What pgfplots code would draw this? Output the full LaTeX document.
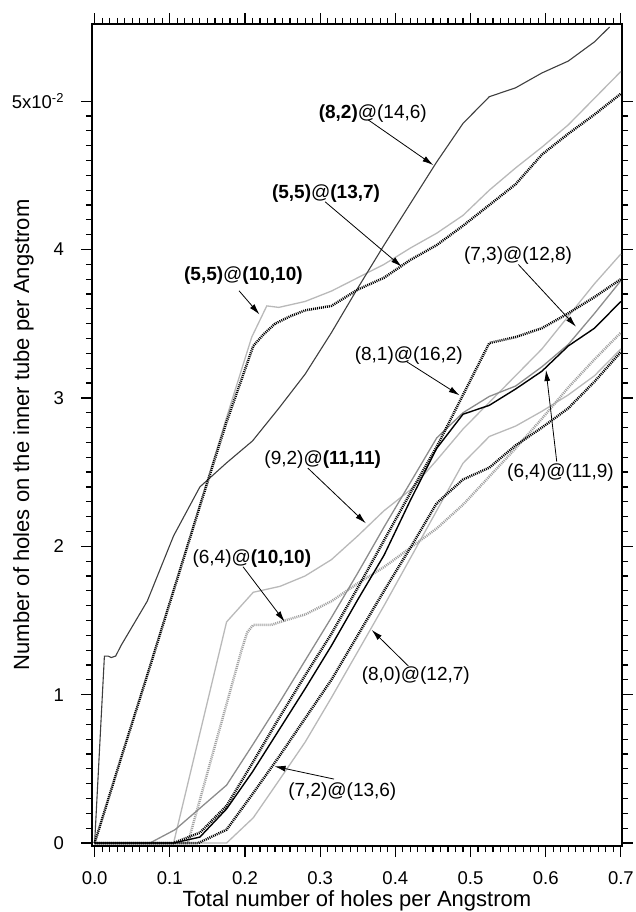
\documentclass[border=0pt]{standalone}
\usepackage{fontspec}
\setmainfont{Liberation Sans}
\usepackage{pgfplots}
\pgfplotsset{compat=1.18}
\usetikzlibrary{arrows.meta}
\definecolor{lg}{RGB}{185,185,185}
\definecolor{mg}{RGB}{140,140,140}
\definecolor{dg}{RGB}{62,62,62}
\definecolor{lgd}{RGB}{160,160,160}
\tikzset{
  dotb/.style={black, line width=2.5pt, dash pattern=on 1pt off 1pt},
  dotg/.style={lgd, line width=2.5pt, dash pattern=on 1pt off 1pt},
  ann/.style={font=\fontsize{19}{22}\selectfont, inner sep=0pt},
  arr/.style={black, line width=0.8pt, -{Latex[length=11pt,width=6pt]}},
}
\begin{document}
\begin{tikzpicture}
\useasboundingbox (-92pt,-66pt) rectangle (543pt,846pt);
\begin{axis}[
  at={(0pt,0pt)}, anchor=south west,
  scale only axis, width=530pt, height=822pt,
  xmin=-0.0035, xmax=0.7015, ymin=-0.0002, ymax=0.0552,
  xtick={0,0.1,0.2,0.3,0.4,0.5,0.6,0.7},
  xticklabels={0.0,0.1,0.2,0.3,0.4,0.5,0.6,0.7},
  ytick={0,0.01,0.02,0.03,0.04,0.05},
  yticklabels={0,1,2,3,4,{5x10\textsuperscript{-2}}},
  scaled y ticks=false, scaled x ticks=false,
  minor x tick num=9, minor y tick num=9,
  tick align=outside, tick pos=both,
  major tick length=10.5pt, minor tick length=6pt,
  tick style={black, line width=1.2pt},
  axis line style={line width=1.3pt},
  ticklabel style={font=\fontsize{18.5}{21}\selectfont},
  xticklabel style={yshift=-11.5pt},
  yticklabel style={xshift=-14pt},
  every axis x label/.style={at={(axis description cs:0.5,-0.0742)}, anchor=base, inner sep=0pt, font=\fontsize{22}{26}\selectfont},
  every axis y label/.style={at={(axis description cs:-0.1094,0.5)}, rotate=90, anchor=south, inner sep=0pt, font=\fontsize{22}{26}\selectfont},
  xlabel={Total number of holes per Angstrom},
  ylabel={Number of holes on the inner tube per Angstrom},
]
% (5,5)@(10,10) light gray
\addplot[lg, line width=1.3pt] coordinates {(0,0) (0.035,0.0057) (0.07,0.0114) (0.105,0.0171) (0.14,0.0228) (0.175,0.0286) (0.209,0.0341) (0.229,0.0362) (0.245,0.0361) (0.28,0.0365) (0.315,0.0372) (0.35,0.0381) (0.385,0.0390) (0.42,0.0401) (0.455,0.0411) (0.49,0.0423) (0.525,0.0440) (0.56,0.0455) (0.595,0.0469) (0.63,0.0484) (0.665,0.0502) (0.70,0.0520)};
% (9,2)@(11,11) light gray
\addplot[lg, line width=1.3pt] coordinates {(0,0) (0.105,0) (0.1755,0.0149) (0.211,0.0169) (0.2466,0.0173) (0.28,0.0180) (0.315,0.0191) (0.35,0.0207) (0.385,0.0224) (0.42,0.0238) (0.455,0.0258) (0.49,0.0279) (0.525,0.0297) (0.56,0.0315) (0.595,0.0333) (0.63,0.0355) (0.665,0.0377) (0.70,0.0397)};
% (8,0)@(12,7) light gray
\addplot[lg, line width=1.3pt] coordinates {(0,0) (0.1755,0) (0.211,0.0017) (0.245,0.0042) (0.28,0.0068) (0.315,0.0098) (0.35,0.0129) (0.385,0.0160) (0.42,0.0192) (0.455,0.0224) (0.49,0.0256) (0.525,0.0274) (0.56,0.0281) (0.595,0.0291) (0.63,0.0302) (0.665,0.0315) (0.70,0.0333)};
% (6,4)@(10,10) light gray dotted
\addplot[dotg] coordinates {(0,0) (0.124,0) (0.196,0.0131) (0.203,0.0142) (0.211,0.0147) (0.235,0.0147) (0.253,0.0150) (0.28,0.0154) (0.315,0.0163) (0.35,0.0175) (0.385,0.0186) (0.42,0.0199) (0.455,0.0212) (0.49,0.0228) (0.525,0.0247) (0.56,0.0266) (0.595,0.0286) (0.63,0.0307) (0.665,0.0326) (0.70,0.0344)};
% (7,3)@(12,8) mid gray
\addplot[mg, line width=1.3pt] coordinates {(0,0) (0.0735,0) (0.107,0.0009) (0.1755,0.0039) (0.21,0.0066) (0.245,0.0094) (0.28,0.0123) (0.315,0.0152) (0.35,0.0182) (0.385,0.0213) (0.42,0.0243) (0.455,0.0273) (0.49,0.0290) (0.525,0.0301) (0.56,0.0308) (0.595,0.0321) (0.63,0.0336) (0.665,0.0357) (0.70,0.0379)};
% (8,2)@(14,6) dark gray
\addplot[dg, line width=1.1pt] coordinates {(0,0) (0.013,0.0126) (0.018,0.0126) (0.022,0.0125) (0.028,0.0126) (0.035,0.0133) (0.07,0.0163) (0.105,0.0207) (0.14,0.0240) (0.175,0.0256) (0.21,0.0271) (0.245,0.0293) (0.28,0.0316) (0.315,0.0344) (0.35,0.0374) (0.385,0.0403) (0.42,0.0431) (0.455,0.0459) (0.49,0.0485) (0.525,0.0503) (0.56,0.0509) (0.595,0.0519) (0.63,0.0527) (0.665,0.0540) (0.685,0.0550)};
% (5,5)@(13,7) black dotted
\addplot[dotb] coordinates {(0,0) (0.035,0.0057) (0.07,0.0113) (0.105,0.0170) (0.14,0.0227) (0.175,0.0283) (0.211,0.0335) (0.225,0.0343) (0.24,0.0350) (0.26,0.0355) (0.28,0.0359) (0.315,0.0362) (0.35,0.0373) (0.385,0.0381) (0.42,0.0393) (0.455,0.0403) (0.49,0.0416) (0.525,0.0430) (0.56,0.0444) (0.595,0.0464) (0.63,0.0478) (0.665,0.0491) (0.70,0.0505)};
% (8,1)@(16,2) black dotted
\addplot[dotb] coordinates {(0,0) (0.105,0) (0.14,0.0007) (0.1755,0.0025) (0.21,0.0054) (0.245,0.0084) (0.28,0.0113) (0.315,0.0141) (0.35,0.0172) (0.385,0.0204) (0.42,0.0236) (0.455,0.0267) (0.49,0.0302) (0.525,0.0337) (0.56,0.0341) (0.595,0.0347) (0.63,0.0357) (0.665,0.0368) (0.70,0.0380)};
% (7,2)@(13,6) black dotted
\addplot[dotb] coordinates {(0,0) (0.138,0) (0.1755,0.0009) (0.21,0.0033) (0.245,0.0058) (0.28,0.0084) (0.315,0.0110) (0.35,0.0140) (0.385,0.0170) (0.42,0.0199) (0.455,0.0229) (0.49,0.0245) (0.525,0.0253) (0.56,0.0268) (0.595,0.0280) (0.63,0.0293) (0.665,0.0311) (0.70,0.0331)};
% (6,4)@(11,9) black solid
\addplot[black, line width=1.4pt] coordinates {(0,0) (0.105,0) (0.14,0.0004) (0.1755,0.0023) (0.21,0.0048) (0.245,0.0076) (0.28,0.0104) (0.315,0.0133) (0.35,0.0164) (0.385,0.0194) (0.42,0.0231) (0.455,0.0266) (0.49,0.0289) (0.525,0.0295) (0.56,0.0306) (0.595,0.0318) (0.63,0.0335) (0.665,0.0347) (0.70,0.0365)};
% annotations
\node[ann] at (axis cs:0.3700,0.04918) {\textbf{(8,2)}@(14,6)};
\draw[arr] (axis cs:0.3641,0.04873) -- (axis cs:0.4505,0.04569);
\node[ann] at (axis cs:0.3078,0.04379) {\textbf{(5,5)}@\textbf{(13,7)}};
\draw[arr] (axis cs:0.3065,0.04322) -- (axis cs:0.4085,0.03884);
\node[ann] at (axis cs:0.1979,0.03821) {\textbf{(5,5)}@\textbf{(10,10)}};
\draw[arr] (axis cs:0.1921,0.03722) -- (axis cs:0.2193,0.03562);
\node[ann] at (axis cs:0.5632,0.03956) {(7,3)@(12,8)};
\draw[arr] (axis cs:0.5637,0.03899) -- (axis cs:0.6403,0.0348);
\node[ann] at (axis cs:0.4179,0.03287) {(8,1)@(16,2)};
\draw[arr] (axis cs:0.4151,0.03244) -- (axis cs:0.4856,0.03017);
\node[ann] at (axis cs:0.3034,0.02586) {(9,2)@\textbf{(11,11)}};
\draw[arr] (axis cs:0.2836,0.02527) -- (axis cs:0.3607,0.02155);
\node[ann] at (axis cs:0.6197,0.02497) {(6,4)@(11,9)};
\draw[arr] (axis cs:0.6147,0.0257) -- (axis cs:0.6004,0.03188);
\node[ann] at (axis cs:0.2091,0.01919) {(6,4)@\textbf{(10,10)}};
\draw[arr] (axis cs:0.1974,0.01862) -- (axis cs:0.2529,0.01491);
\node[ann] at (axis cs:0.4272,0.0113) {(8,0)@(12,7)};
\draw[arr] (axis cs:0.4173,0.01193) -- (axis cs:0.3686,0.01436);
\node[ann] at (axis cs:0.3295,0.00347) {(7,2)@(13,6)};
\draw[arr] (axis cs:0.3184,0.00431) -- (axis cs:0.2393,0.00517);
\end{axis}
\end{tikzpicture}
\end{document}
